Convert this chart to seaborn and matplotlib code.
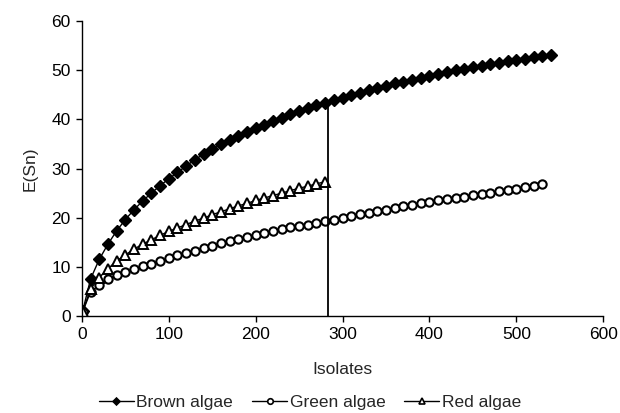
import numpy as np
import pandas as pd
import matplotlib
matplotlib.use("Agg")
import matplotlib.pyplot as plt
from matplotlib.lines import Line2D
import seaborn as sns

# =====================
# DATA
# =====================
brown_x = [1] + list(range(10, 541, 10))
brown_y = [1.0, 7.5, 11.5, 14.6, 17.3, 19.6, 21.6, 23.4, 25.0, 26.5,
           27.9, 29.2, 30.5, 31.8, 32.9, 33.9, 34.9, 35.7, 36.6, 37.4,
           38.2, 38.9, 39.6, 40.3, 41.0, 41.7, 42.3, 42.9, 43.4, 43.9,
           44.4, 44.9, 45.4, 45.9, 46.4, 46.8, 47.3, 47.7, 48.1, 48.5,
           48.9, 49.3, 49.6, 50.0, 50.3, 50.6, 50.9, 51.2, 51.5, 51.8,
           52.1, 52.3, 52.6, 52.8, 53.0]

green_x = [1] + list(range(10, 531, 10))
green_y = [0.9, 4.9, 6.3, 7.5, 8.3, 9.0, 9.5, 10.1, 10.6, 11.2,
           11.8, 12.3, 12.8, 13.3, 13.8, 14.3, 14.8, 15.3, 15.7, 16.1,
           16.5, 16.9, 17.3, 17.6, 18.0, 18.3, 18.6, 19.0, 19.3, 19.6,
           20.0, 20.3, 20.7, 21.0, 21.3, 21.6, 21.9, 22.3, 22.6, 22.9,
           23.2, 23.5, 23.8, 24.0, 24.3, 24.6, 24.8, 25.1, 25.4, 25.7,
           25.9, 26.2, 26.5, 26.8]

red_x = [1] + list(range(10, 281, 10))
red_y = [0.9, 5.5, 7.8, 9.6, 11.2, 12.4, 13.6, 14.6, 15.5, 16.4,
         17.2, 17.9, 18.6, 19.3, 19.9, 20.6, 21.2, 21.8, 22.4, 22.9,
         23.5, 24.0, 24.5, 25.0, 25.5, 26.0, 26.4, 26.9, 27.3]

# rarefaction cut at the red algae sample size
red_total = 283
brown_at_red = 43.6

sns.set_style("ticks")
plt.rcParams["font.family"] = ["Liberation Sans", "DejaVu Sans"]

fig = plt.figure(figsize=(6.2, 4.13), dpi=100)
ax = fig.add_axes([0.132, 0.235, 0.841, 0.714])

# name, x, y, marker, face, size, edge width, legend size
series = [
    ("Brown algae", brown_x, brown_y, "D", "black", 5.8, 1.0, 3.5),
    ("Green algae", green_x, green_y, "o", "white", 6.0, 1.5, 4.0),
    ("Red algae", red_x, red_y, "^", "white", 7.0, 1.4, 4.5),
]
handles = []
for name, xs, ys, mk, face, ms, mew, lms in series:
    sns.lineplot(x=xs, y=ys, marker=mk, color="black", linewidth=1,
                 errorbar=None, sort=False, ax=ax)
    line = ax.lines[-1]
    line.set_markerfacecolor(face)
    line.set_markeredgecolor("black")
    line.set_markersize(ms)
    line.set_markeredgewidth(mew)
    handles.append(Line2D([], [], color="black", linewidth=1, marker=mk,
                          markerfacecolor=face, markeredgecolor="black",
                          markersize=lms, markeredgewidth=1.2, label=name))

ax.vlines(red_total, 0, brown_at_red, color="black", linewidth=1.3)

ax.set_xlim(0, 600)
ax.set_ylim(0, 60)
ax.set_xticks(range(0, 601, 100))
ax.set_yticks(range(0, 61, 10))
ax.tick_params(labelsize=12.5, length=4, width=1, colors="black", pad=4)
ax.set_xlabel("Isolates", fontsize=12.5, labelpad=14)
ax.set_ylabel("E(Sn)", fontsize=12.5, labelpad=10)
for s in ["left", "bottom"]:
    ax.spines[s].set_color("black")
    ax.spines[s].set_linewidth(1)
sns.despine(ax=ax)

fig.legend(handles=handles, loc="lower center", bbox_to_anchor=(0.5, -0.03),
           ncol=3, frameon=False, fontsize=12.5, handlelength=2.0,
           handletextpad=0.15, columnspacing=1.1)

fig.savefig("out.png", dpi=100)
